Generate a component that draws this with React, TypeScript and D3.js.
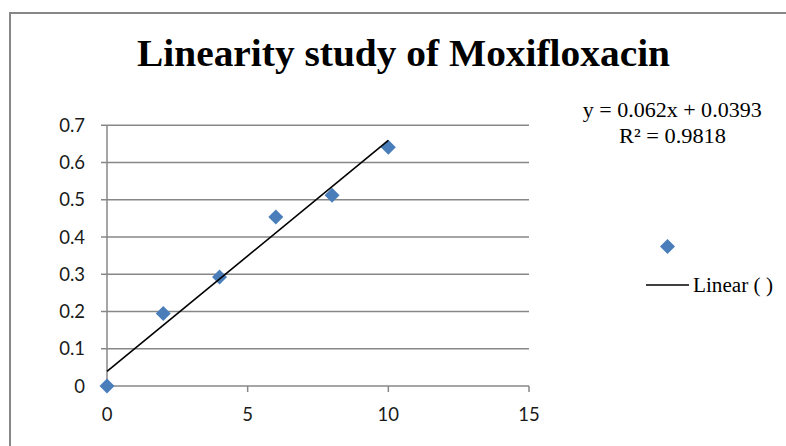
import React, { FC, useMemo } from "react";
import { scaleLinear, line } from "d3";

const concentrations = [0, 2, 4, 6, 8, 10];
const absorbances = [0, 0.195, 0.293, 0.454, 0.512, 0.641];
const xTicks = [0, 5, 10, 15];
const yTicks = [0, 0.1, 0.2, 0.3, 0.4, 0.5, 0.6, 0.7];
const trendSlope = 0.062;
const trendIntercept = 0.0393;
const rSquared = 0.9818;
const chartTitle = "Linearity study of Moxifloxacin";
const legendLabel = "Linear ( )";

const WIDTH = 786;
const HEIGHT = 446;
const GRID = "#878787";
const BLUE = "#4a7ebb";
const SANS = "Lato, 'Open Sans', sans-serif";
const SERIF = "'Liberation Serif', 'Times New Roman', serif";

const diamond = (cx: number, cy: number, r: number) =>
  `M${cx},${cy - r}L${cx + r},${cy}L${cx},${cy + r}L${cx - r},${cy}Z`;

const App: FC = () => {
  const x = useMemo(() => scaleLinear().domain([0, 15]).range([107, 529]), []);
  const y = useMemo(() => scaleLinear().domain([0, 0.7]).range([386, 125.3]), []);

  const points = concentrations.map((c, i) => ({ x: c, y: absorbances[i] }));
  const trend = line<number>()
    .x((d) => x(d))
    .y((d) => y(trendSlope * d + trendIntercept))([0, 10]);

  return (
    <div style={{ position: "fixed", left: 0, top: 0 }}>
      <svg width={WIDTH} height={HEIGHT} style={{ display: "block", background: "#fff" }}>
        <rect x={10} y={13} width={900} height={600} fill="#fff" stroke={GRID} strokeWidth={2} />

        <text
          x={403.5}
          y={65.5}
          textAnchor="middle"
          fontFamily={SERIF}
          fontWeight="bold"
          fontSize={38}
          textLength={533}
          lengthAdjust="spacingAndGlyphs"
        >
          {chartTitle}
        </text>

        {/* gridlines + y ticks */}
        {yTicks.map((t) => (
          <g key={t}>
            <line x1={101} x2={x(15)} y1={y(t)} y2={y(t)} stroke={GRID} strokeWidth={1.5} />
            <text
              x={85}
              y={y(t)}
              dy="0.36em"
              textAnchor="end"
              fontFamily={SANS}
              fontSize={18.5}
              fill="#1a1a1a"
            >
              {t}
            </text>
          </g>
        ))}
        <line x1={x(0)} x2={x(0)} y1={y(0.7)} y2={y(0)} stroke={GRID} strokeWidth={1.5} />
        {xTicks.map((t) => (
          <g key={t}>
            <line x1={x(t)} x2={x(t)} y1={y(0)} y2={y(0) + 6} stroke={GRID} strokeWidth={1.5} />
            <text
              x={x(t)}
              y={421}
              textAnchor="middle"
              fontFamily={SANS}
              fontSize={18.5}
              fill="#1a1a1a"
            >
              {t}
            </text>
          </g>
        ))}

        {points.map((p) => (
          <path key={p.x} d={diamond(x(p.x), y(p.y), 7.5)} fill={BLUE} />
        ))}
        <path d={trend ?? ""} stroke="#000" strokeWidth={1.6} fill="none" />

        <text
          x={672.2}
          y={116.5}
          textAnchor="middle"
          fontFamily={SERIF}
          fontSize={20.5}
          textLength={179}
          lengthAdjust="spacingAndGlyphs"
        >
          {`y = ${trendSlope}x + ${trendIntercept}`}
        </text>
        <text
          x={672.5}
          y={142.5}
          textAnchor="middle"
          fontFamily={SERIF}
          fontSize={20.5}
          textLength={107}
          lengthAdjust="spacingAndGlyphs"
        >
          {`R² = ${rSquared}`}
        </text>

        <path d={diamond(667.5, 246.5, 7.5)} fill={BLUE} />
        <line x1={646} x2={689} y1={285} y2={285} stroke="#000" strokeWidth={1.6} />
        <text
          x={693}
          y={291.5}
          fontFamily={SERIF}
          fontSize={20.5}
          textLength={80}
          lengthAdjust="spacingAndGlyphs"
        >
          {legendLabel}
        </text>
      </svg>
    </div>
  );
};

export default App;
